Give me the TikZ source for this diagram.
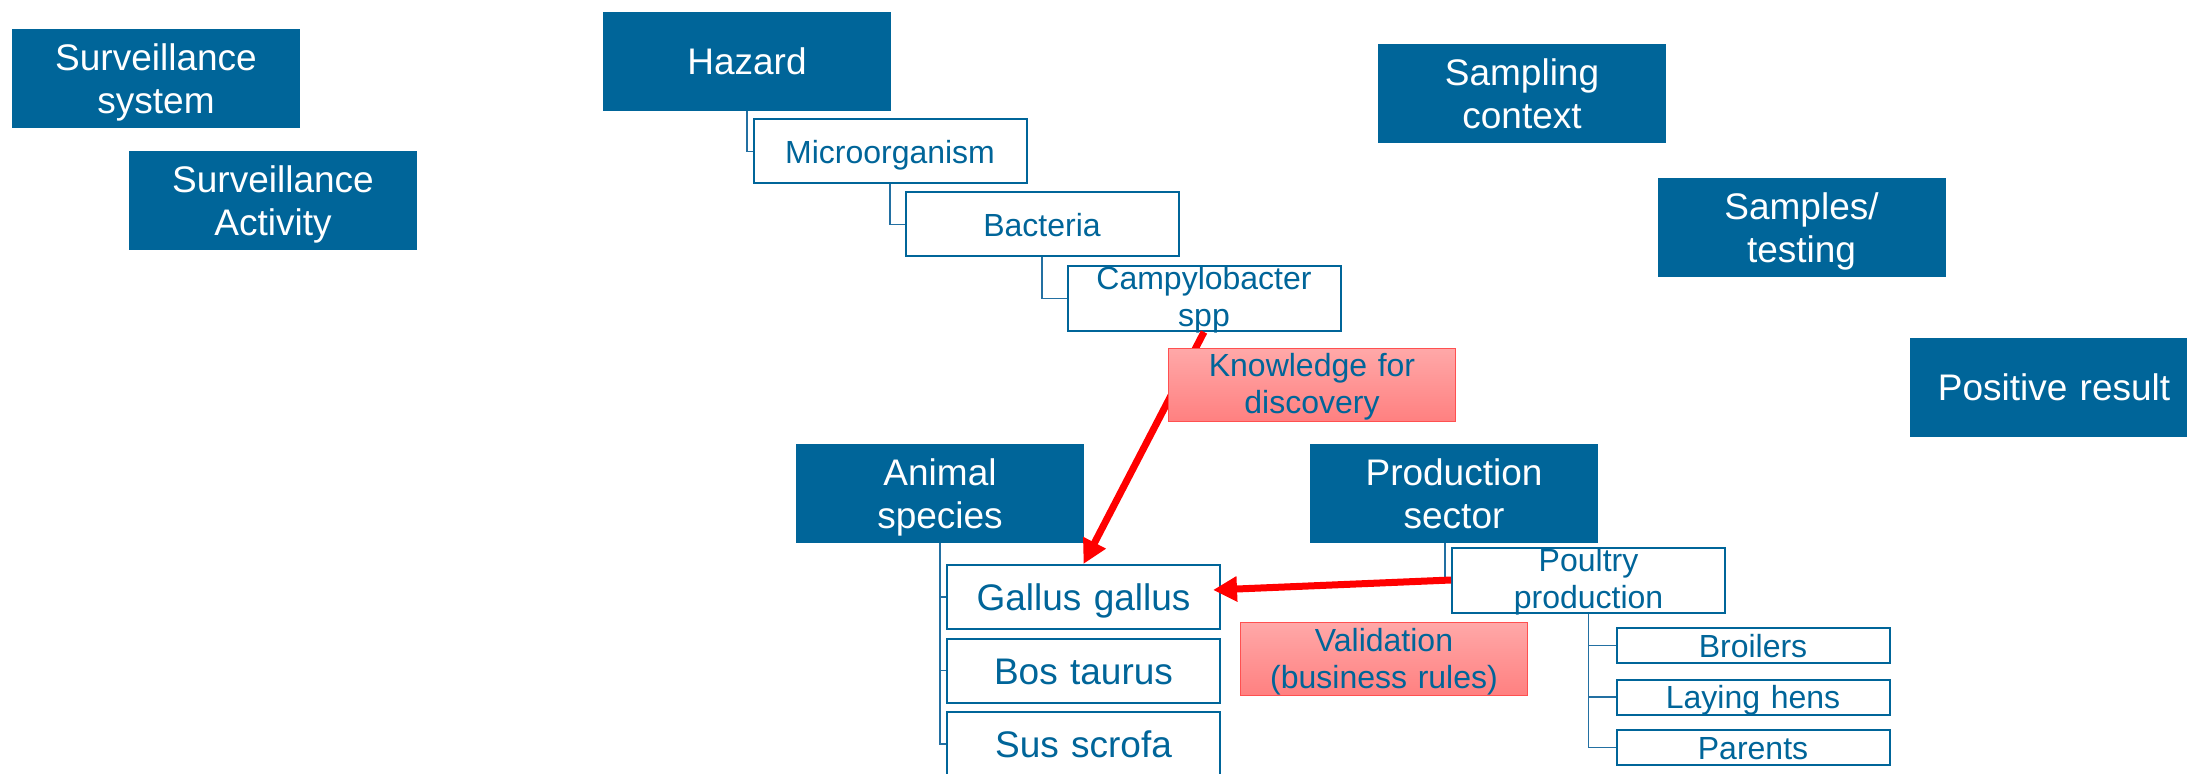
\documentclass[tikz,border=0pt]{standalone}
\usepackage{fontspec}
\setmainfont{Liberation Sans}
\usetikzlibrary{arrows.meta}
\definecolor{hdrblue}{RGB}{0,101,153}
\definecolor{linkblue}{RGB}{35,112,162}
\definecolor{notetop}{RGB}{255,168,168}
\definecolor{notebot}{RGB}{255,128,128}
\definecolor{noteedge}{RGB}{255,80,80}
\definecolor{arrowred}{RGB}{255,0,0}

\begin{document}
\begin{tikzpicture}[x=0.5pt,y=-0.5pt,
  bigfont/.style={font=\fontsize{18.5}{21.5}\selectfont},
  smallfont/.style={font=\fontsize{16}{18.5}\selectfont},
  % dark header boxes; the text box is sized so baselines sit at fixed places
  headbox/.style={fill=hdrblue, text=white, bigfont, align=center,
    minimum width=144pt, text width=140pt, inner xsep=2pt, inner ysep=0pt},
  headtwo/.style={headbox, text height=20.75pt, text depth=28.75pt},
  headone/.style={headbox, text height=31.5pt, text depth=18pt},
  % outlined entry boxes
  itembox/.style={draw=hdrblue, line width=1pt, fill=white, text=hdrblue,
    smallfont, align=center, minimum width=136.5pt, text width=132.5pt,
    inner xsep=2pt, inner ysep=0pt, text height=22pt, text depth=10pt},
  leafbox/.style={itembox, bigfont, text height=22.75pt, text depth=9.25pt},
  thinbox/.style={itembox, text height=14.5pt, text depth=3pt},
  tallbox/.style={itembox, text height=12pt, text depth=20.5pt},
  notebox/.style={draw=noteedge, line width=0.75pt, top color=notetop, bottom color=notebot,
    text=hdrblue, smallfont, align=center, minimum width=143.5pt, text width=139.5pt,
    inner xsep=2pt, inner ysep=0pt, text height=14.25pt, text depth=22.25pt},
  link/.style={draw=linkblue, line width=0.9pt},
  redarrow/.style={draw=arrowred, line width=3.5pt, -{Triangle[length=12pt,width=12pt]}}
]
\useasboundingbox (0,0) rectangle (2187,774);
\clip (0,0) rectangle (2187,774);

% Top-level categories
\node[headtwo] (survsys) at (156,78.5) {Surveillance\\system};
\node[headtwo] (survact) at (273,200.5) {Surveillance\\Activity};
\node[headtwo] (sampling) at (1522,93.5) {Sampling\\context};
\node[headtwo] (samples) at (1801.5,228) {Samples/\\testing};
\node[headone] (positive) at (2054,387.5) {Positive result};

% Hazard hierarchy
\node[headone] (hazard) at (747,61.5) {Hazard};
\node[itembox] (micro) at (890,151.5) {Microorganism};
\node[itembox] (bact) at (1042,224.5) {Bacteria};
\node[tallbox] (campy) at (1204,298.5) {Campylobacter\\spp};
\draw[link] (hazard.south) |- (micro.west);
\draw[link] (micro.south) |- (bact.west);
\draw[link] (bact.south) |- (campy.west);

% Animal species hierarchy
\node[headtwo] (animal) at (940,493.5) {Animal\\species};
\node[leafbox] (gallus) at (1083.5,597) {Gallus gallus};
\node[leafbox] (bos) at (1083.5,670.5) {Bos taurus};
\node[leafbox] (sus) at (1083.5,744) {Sus scrofa};
\draw[link] (animal.south) |- (gallus.west);
\draw[link] (animal.south) |- (bos.west);
\draw[link] (animal.south) |- (sus.west);

% Production sector hierarchy
\node[headtwo] (production) at (1454,493.5) {Production\\sector};
\node[tallbox] (poultry) at (1588.5,580) {Poultry\\production};
\node[thinbox] (broilers) at (1753,645.5) {Broilers};
\node[thinbox] (laying) at (1753,697) {Laying hens};
\node[thinbox] (parents) at (1753,747.5) {Parents};
\draw[link] ([xshift=-4.5pt]production.south) |- (poultry.west);
\draw[link] (poultry.south) |- (broilers.west);
\draw[link] (poultry.south) |- (laying.west);
\draw[link] (poultry.south) |- (parents.west);

% Cross links
\draw[redarrow] (campy.south) -- (gallus.north);
\draw[redarrow] (poultry.west) -- ([xshift=-4pt,yshift=3.5pt]gallus.east);

% Annotations
\node[notebox] (knowledge) at (1312,385) {Knowledge for\\discovery};
\node[notebox] (validation) at (1384,659) {Validation\\(business rules)};
\end{tikzpicture}
\end{document}
